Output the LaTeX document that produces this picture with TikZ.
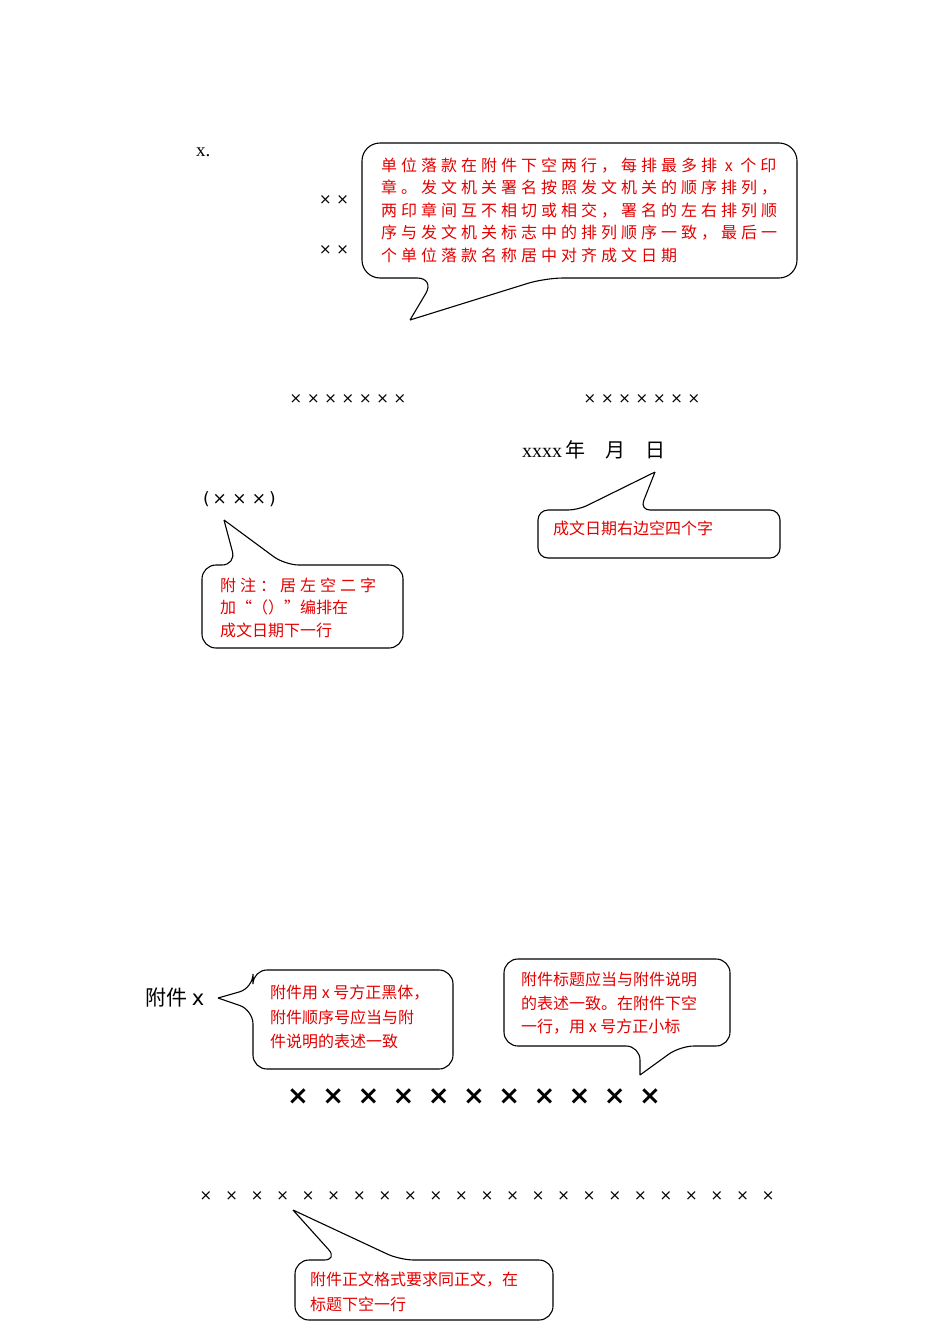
\documentclass[tikz,border=0pt]{standalone}
\usepackage{fontspec}
\setmainfont{Liberation Serif}
\newfontfamily\cjk{Noto Sans CJK SC}
\newfontfamily\cjkw[LetterSpace=25]{Noto Sans CJK SC}
\newfontfamily\dv{DejaVu Sans}
\begin{document}
\begin{tikzpicture}[x=1pt,y=-1pt,
  callout/.style={draw=black,line width=1.1pt,fill=white,rounded corners=18pt,line join=miter},
  red/.style={text=red!90!black,anchor=west,inner sep=0pt},
  mark1/.style={anchor=center,inner sep=0pt,font=\dv\fontsize{15}{15}\selectfont}]
\useasboundingbox (0,0) rectangle (950,1344);
% --- top
\node[anchor=west,inner sep=0pt,font=\fontsize{19}{19}\selectfont] (xdot) at (196,152) {x.};
\node[mark1] (s1) at (334,200) {× ×};
\node[mark1] (s2) at (334,250) {× ×};
\draw[callout] (410,320) -- (435,278) -- (362,278) -- (362,143) -- (797,143) -- (797,278) -- (545,278) -- (410,320);
\foreach \t [count=\i] in {单位落款在附件下空两行，每排最多排 x 个印,章。发文机关署名按照发文机关的顺序排列，,两印章间互不相切或相交，署名的左右排列顺,序与发文机关标志中的排列顺序一致，最后一,个单位落款名称居中对齐成文日期}
  \node[red,font=\cjkw\fontsize{16}{16}\selectfont] (b1l\i) at (381,143+22.5*\i) {\t};
\node[mark1] (r1) at (348,399) {× × × × × × ×};
\node[mark1] (r2) at (642,399) {× × × × × × ×};
\node[anchor=west,inner sep=0pt,font=\fontsize{20}{20}\selectfont] (date) at (522,450) {xxxx\,{\cjk 年\quad 月\quad 日}};
\draw[callout,rounded corners=10pt] (655,472) -- (640,510) -- (780,510) -- (780,558) -- (538,558) -- (538,510) -- (578,510) -- (655,472);
\node[red,font=\cjk\fontsize{16}{16}\selectfont] (b2) at (553,528) {成文日期右边空四个字};
\node[anchor=west,inner sep=0pt,font=\dv\fontsize{17}{17}\selectfont] (sig) at (203,499) {(\,× × ×\,)};
\draw[callout,rounded corners=14pt] (224,520) -- (285,565) -- (403,565) -- (403,648) -- (202,648) -- (202,565) -- (236,565) -- (224,520);
\node[red,font=\cjkw\fontsize{16}{16}\selectfont] (b3a) at (220,585) {附注：居左空二字};
\node[red,font=\cjk\fontsize{16}{16}\selectfont] (b3b) at (220,607) {加“（）”编排在};
\node[red,font=\cjk\fontsize{16}{16}\selectfont] (b3c) at (220,630) {成文日期下一行};
% --- bottom
\node[anchor=west,inner sep=0pt,font=\cjk\fontsize{21}{21}\selectfont] (fj) at (145,998) {附件 {\dv x}};
\draw[callout,rounded corners=14pt] (218,998) -- (253,988) -- (253,970) -- (453,970) -- (453,1069) -- (253,1069) -- (253,1010) -- (218,998);
\foreach \t [count=\i] in {附件用 x 号方正黑体，,附件顺序号应当与附,件说明的表述一致}
  \node[red,font=\cjk\fontsize{16}{16}\selectfont] (b4l\i) at (270,969+24*\i) {\t};
\draw[callout,rounded corners=14pt] (640,1075) -- (640,1046) -- (504,1046) -- (504,959) -- (730,959) -- (730,1046) -- (680,1046) -- (640,1075);
\foreach \t [count=\i] in {附件标题应当与附件说明,的表述一致。在附件下空,一行，用 x 号方正小标}
  \node[red,font=\cjk\fontsize{16}{16}\selectfont] (b5l\i) at (521,956+23.5*\i) {\t};
\foreach \i in {0,...,10}
  \node[anchor=center,inner sep=0pt,font=\dv\bfseries\fontsize{26}{26}\selectfont] (big\i) at (298+35.2*\i,1097) {×};
\foreach \i in {0,...,22}
  \node[mark1] (sm\i) at (206+25.55*\i,1196) {×};
\draw[callout,rounded corners=14pt] (293,1210) -- (400,1260) -- (553,1260) -- (553,1320) -- (295,1320) -- (295,1260) -- (338,1260) -- (293,1210);
\node[red,font=\cjk\fontsize{16}{16}\selectfont] (b6a) at (310,1280) {附件正文格式要求同正文，在};
\node[red,font=\cjk\fontsize{16}{16}\selectfont] (b6b) at (310,1304) {标题下空一行};
\end{tikzpicture}
\end{document}
